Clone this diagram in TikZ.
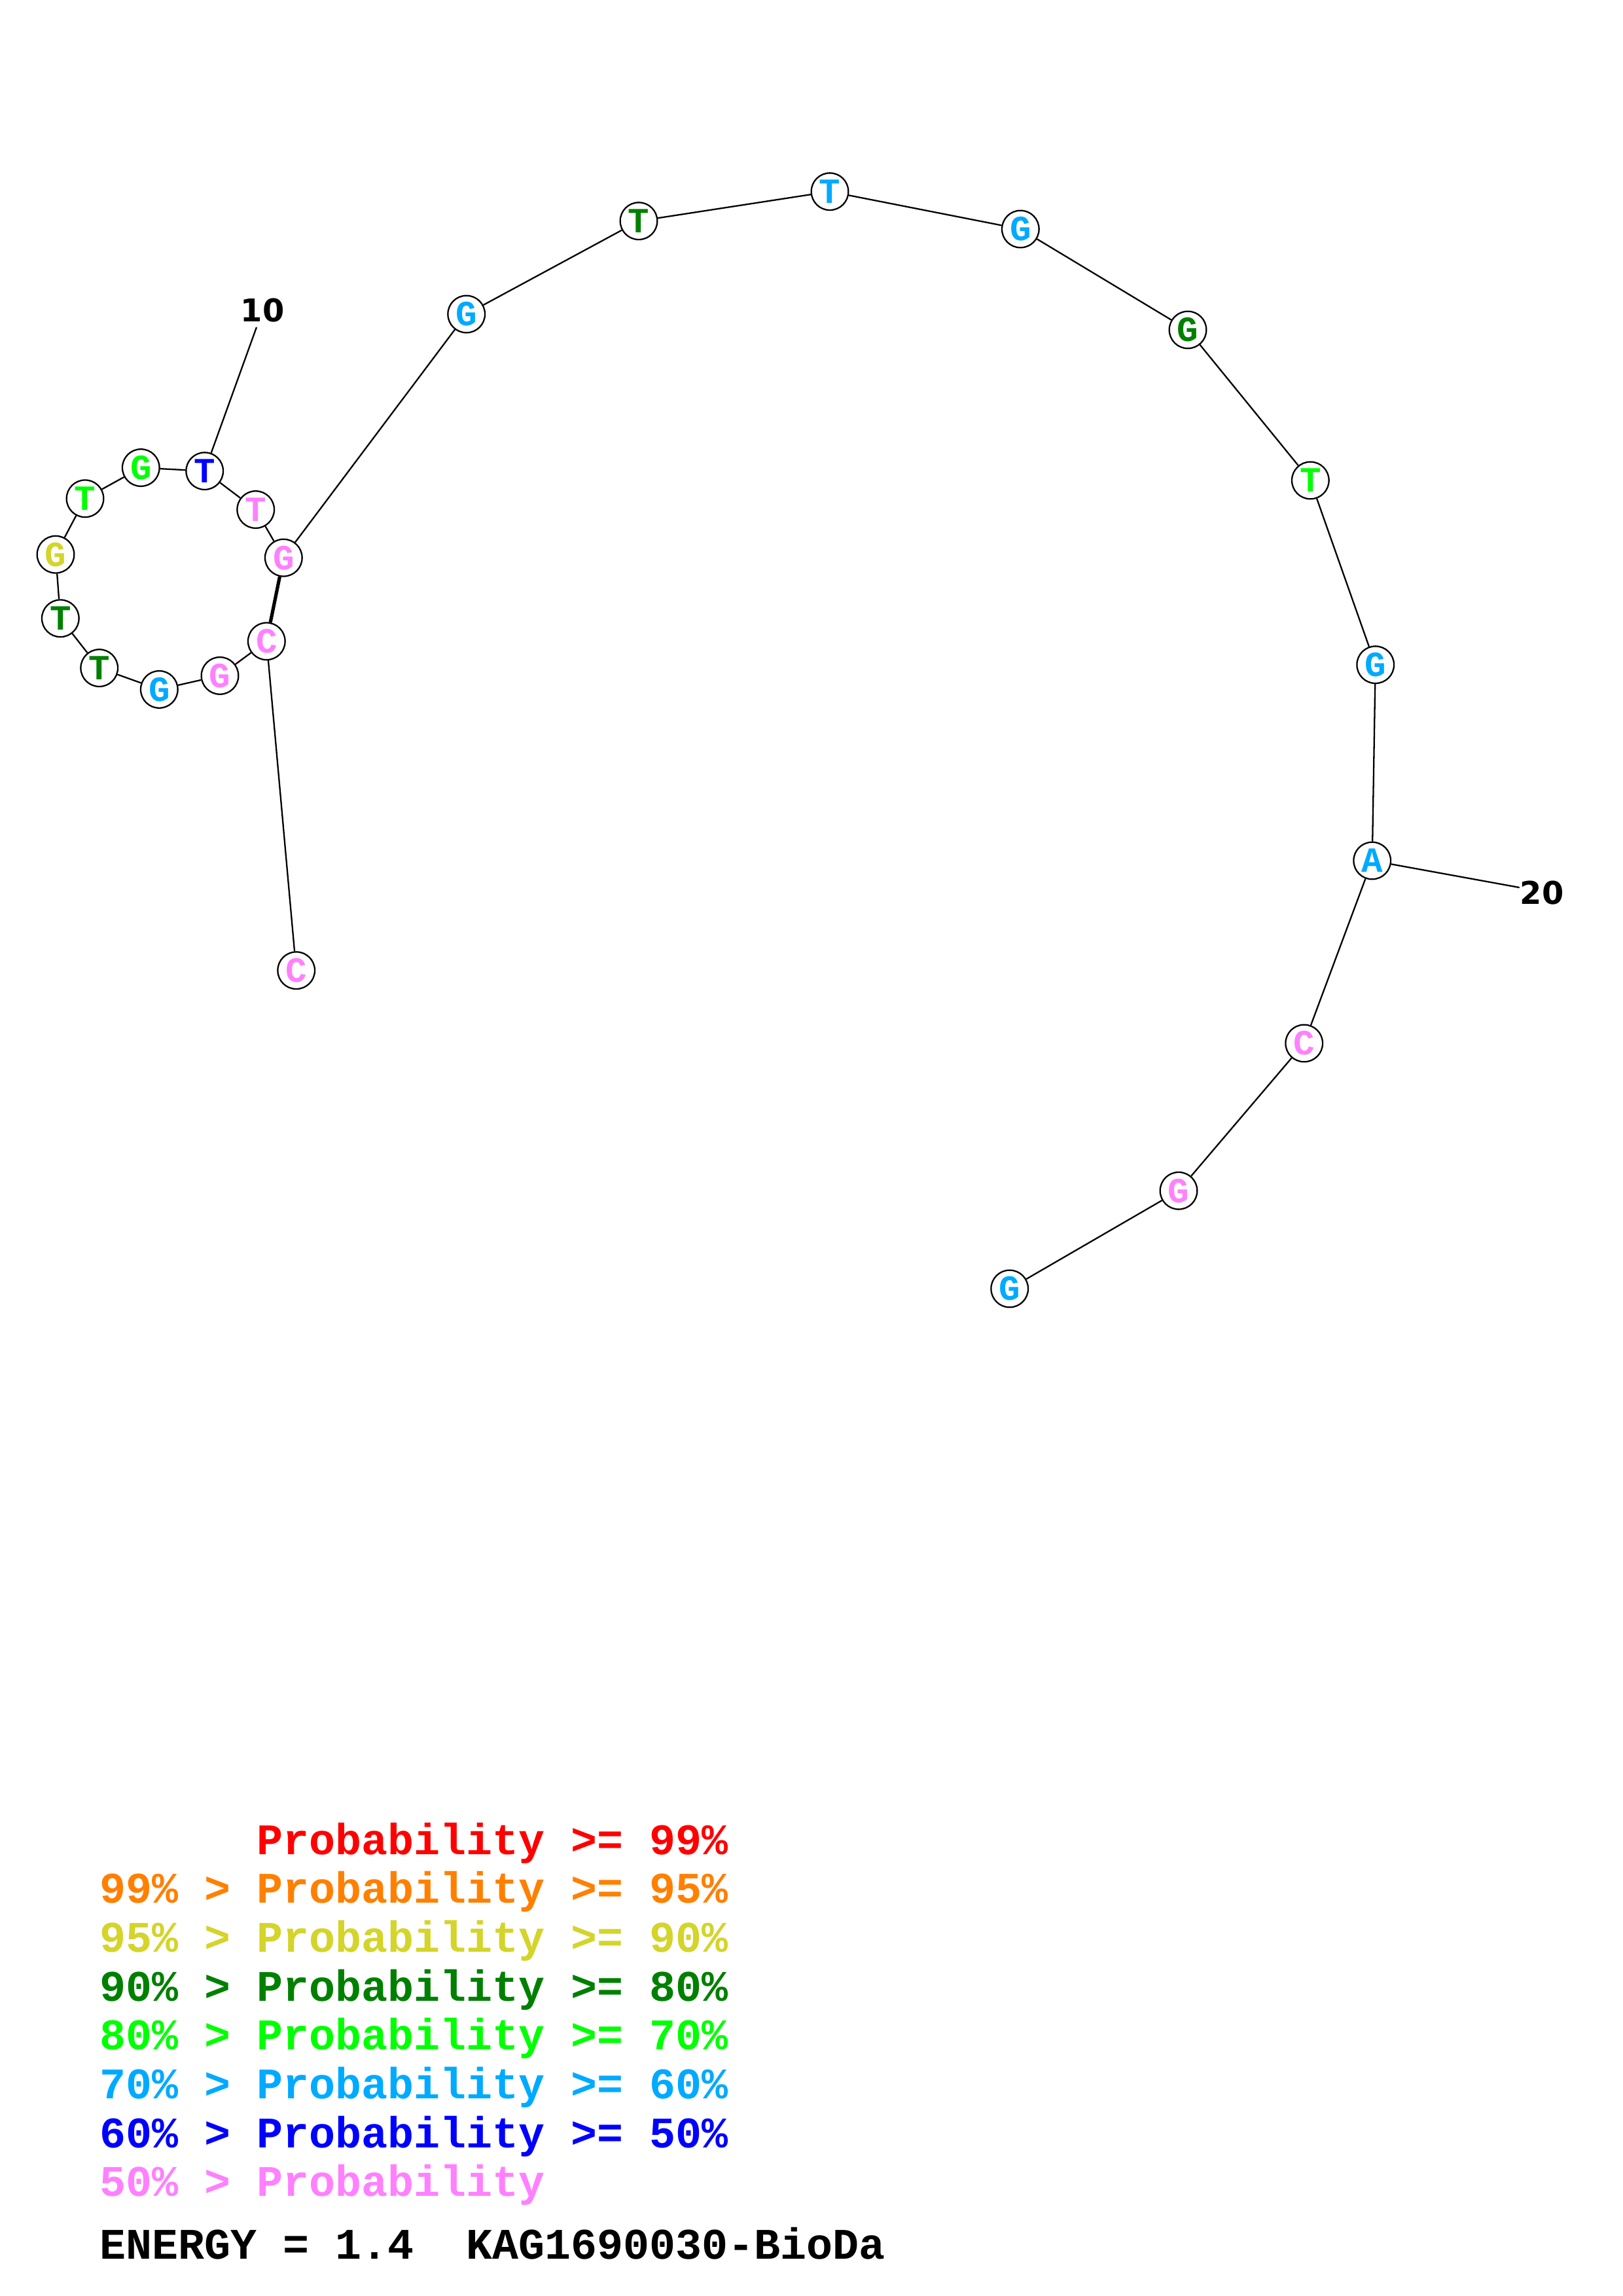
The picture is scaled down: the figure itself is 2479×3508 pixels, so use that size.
\documentclass[tikz,border=0pt]{standalone}
\usepackage{fontspec}
\setmainfont{Liberation Serif}
\setmonofont{Liberation Mono}
\newfontfamily\numfont{DejaVu Sans}
\definecolor{cRed}{HTML}{FF0000}
\definecolor{cOrange}{HTML}{FF8000}
\definecolor{cYellow}{HTML}{D4D42A}
\definecolor{cDGreen}{HTML}{008000}
\definecolor{cGreen}{HTML}{00FF00}
\definecolor{cLBlue}{HTML}{00AAFF}
\definecolor{cBlue}{HTML}{0000FF}
\definecolor{cPink}{HTML}{FF80FF}
\tikzset{
  base/.style={circle, draw=black, fill=white, line width=0.55pt, minimum size=13.6pt, inner sep=0pt, font=\ttfamily\bfseries\fontsize{13}{13}\selectfont},
  bond/.style={line width=0.55pt, draw=black},
  pair/.style={line width=1.25pt, draw=black},
  numlab/.style={font=\numfont\bfseries\fontsize{11.5}{11.5}\selectfont, inner sep=0pt},
  legend/.style={anchor=base west, inner sep=0pt, font=\ttfamily\bfseries\fontsize{16}{16}\selectfont}
}
\begin{document}
\begin{tikzpicture}[x=0.24pt, y=-0.24pt]
\useasboundingbox (0,0) rectangle (2479,3508);
% nucleotides
\node[base, text=cPink]   (n1)  at (452.7,1482.7) {C};
\node[base, text=cPink]   (n2)  at (407.3,979.8)  {C};
\node[base, text=cPink]   (n3)  at (336,1032.4)   {G};
\node[base, text=cLBlue]  (n4)  at (243.3,1053.4) {G};
\node[base, text=cDGreen] (n5)  at (151.7,1020.6) {T};
\node[base, text=cDGreen] (n6)  at (92.3,944.8)   {T};
\node[base, text=cYellow] (n7)  at (85,847.2)     {G};
\node[base, text=cGreen]  (n8)  at (130,761.8)    {T};
\node[base, text=cGreen]  (n9)  at (215.3,714.6)  {G};
\node[base, text=cBlue]   (n10) at (312.7,719.7)  {T};
\node[base, text=cPink]   (n11) at (390.7,778.6)  {T};
\node[base, text=cPink]   (n12) at (433.3,852.2)  {G};
\node[base, text=cLBlue]  (n13) at (712.7,480)    {G};
\node[base, text=cDGreen] (n14) at (976,337.7)    {T};
\node[base, text=cLBlue]  (n15) at (1268,292.7)   {T};
\node[base, text=cLBlue]  (n16) at (1559.3,350)   {G};
\node[base, text=cDGreen] (n17) at (1815,504)     {G};
\node[base, text=cGreen]  (n18) at (2002.3,734)   {T};
\node[base, text=cLBlue]  (n19) at (2101.7,1015.7){G};
\node[base, text=cLBlue]  (n20) at (2096.7,1315)  {A};
\node[base, text=cPink]   (n21) at (1992.7,1594)  {C};
\node[base, text=cPink]   (n22) at (1801,1819.3)  {G};
\node[base, text=cLBlue]  (n23) at (1542.7,1969)  {G};
% backbone
\foreach \a/\b in {n1/n2,n2/n3,n3/n4,n4/n5,n5/n6,n6/n7,n7/n8,n8/n9,n9/n10,n10/n11,n11/n12,n12/n13,n13/n14,n14/n15,n15/n16,n16/n17,n17/n18,n18/n19,n19/n20,n20/n21,n21/n22,n22/n23}
  \draw[bond] (\a) -- (\b);
% base pair
\draw[pair] (n2) -- (n12);
% number labels
\node[numlab] (l10) at (401,474) {10};
\coordinate (e10) at (392,500);
\draw[bond] (n10) -- (e10);
\node[numlab] (l20) at (2356,1364) {20};
\coordinate (e20) at (2321.7,1356);
\draw[bond] (n20) -- (e20);
% legend
\node[legend, text=cRed]    (g1) at (392,2833)   {Probability >= 99\%};
\node[legend, text=cOrange] (g2) at (152,2907.7) {99\% > Probability >= 95\%};
\node[legend, text=cYellow] (g3) at (152,2982.4) {95\% > Probability >= 90\%};
\node[legend, text=cDGreen] (g4) at (152,3057.1) {90\% > Probability >= 80\%};
\node[legend, text=cGreen]  (g5) at (152,3131.8) {80\% > Probability >= 70\%};
\node[legend, text=cLBlue]  (g6) at (152,3206.5) {70\% > Probability >= 60\%};
\node[legend, text=cBlue]   (g7) at (152,3281.2) {60\% > Probability >= 50\%};
\node[legend, text=cPink]   (g8) at (152,3355.9) {50\% > Probability};
\node[legend, text=black]   (g9) at (152,3451)   {ENERGY = 1.4\ \ KAG1690030-BioDa};
\end{tikzpicture}
\end{document}
